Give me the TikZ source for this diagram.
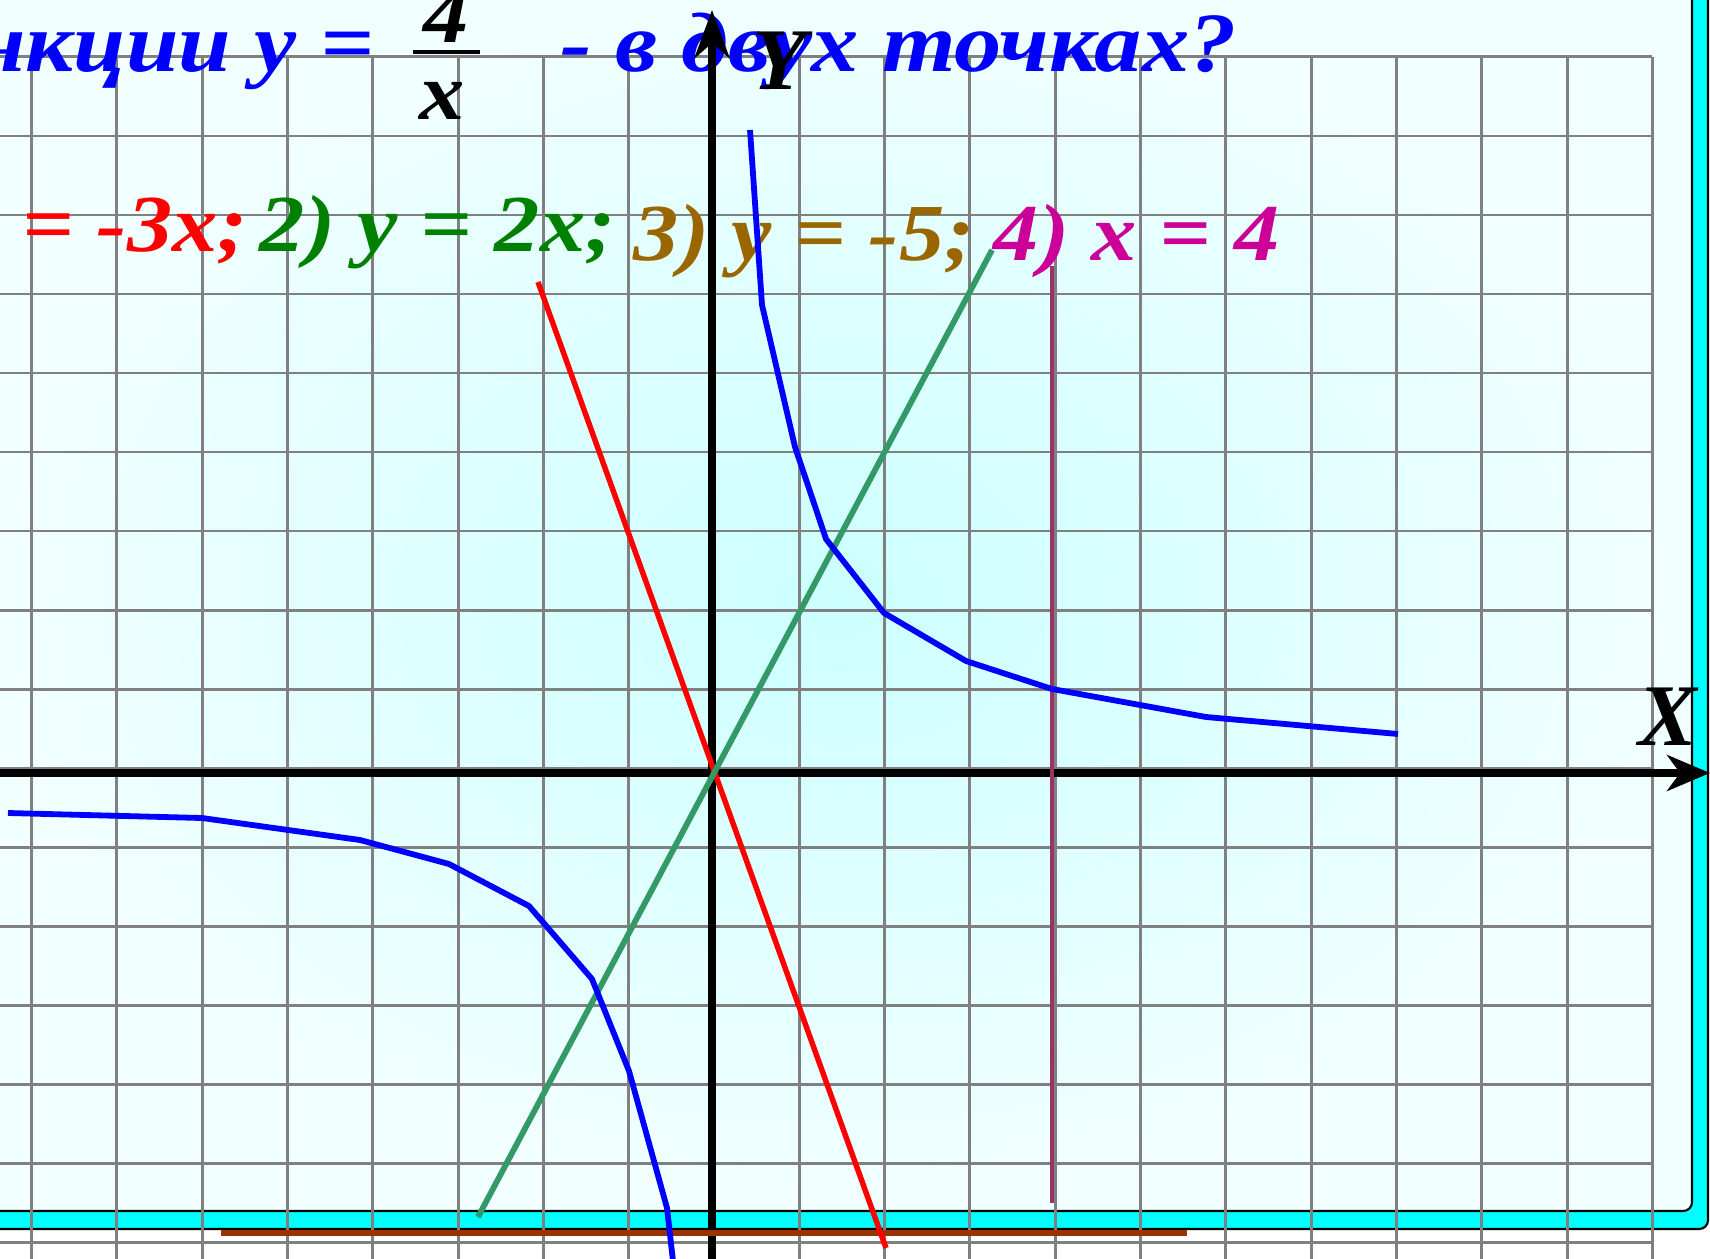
\documentclass[tikz,border=0pt]{standalone}
\usepackage{fontspec}
\setmainfont{Liberation Serif}
\newfontfamily\slidefont{Liberation Serif}[FakeStretch=1.12]
\usetikzlibrary{arrows.meta}
\definecolor{GridGray}{HTML}{808080}
\definecolor{FrameCyan}{HTML}{00FFFF}
\definecolor{PaleCyan}{HTML}{F2FFFF}
\definecolor{MidCyan}{HTML}{CCFFFF}
\definecolor{HypBlue}{HTML}{0000FF}
\definecolor{LineRed}{HTML}{FF0000}
\definecolor{LineGreen}{HTML}{339966}
\definecolor{TextGreen}{HTML}{008000}
\definecolor{LineBrown}{HTML}{993300}
\definecolor{TextBrown}{HTML}{996600}
\definecolor{LinePlum}{HTML}{993366}
\definecolor{TextMagenta}{HTML}{CC0099}
\tikzset{
  gridline/.style={draw=GridGray,line width=0.85pt},
  axisline/.style={draw=black,line width=2.2pt},
  graphline/.style={line width=1.65pt,line join=round},
  titletext/.style={inner sep=0pt,font=\fontsize{24}{28}\selectfont\slidefont\bfseries\itshape,text=HypBlue},
  fractext/.style={inner sep=0pt,anchor=base,font=\fontsize{23}{26}\selectfont\slidefont\bfseries\itshape},
  eqtext/.style={inner sep=0pt,anchor=base west,font=\fontsize{23}{26}\selectfont\slidefont\bfseries\itshape},
  axislabel/.style={inner sep=0pt,anchor=base,font=\fontsize{25}{28}\selectfont\bfseries\itshape},
}

\begin{document}
\begin{tikzpicture}[x=0.01cm,y=-0.01cm]
  \useasboundingbox (0,0) rectangle (1710,1258);
  \clip (0,0) rectangle (1710,1258);
  \fill[white] (0,0) rectangle (1710,1258);
  \draw[fill=FrameCyan,line width=0.6pt,rounded corners=2.5pt] (-20,-20) rectangle (1708,1229);
  \draw[line width=0.6pt,rounded corners=2.5pt,inner color=MidCyan,outer color=PaleCyan] (-20,-20) rectangle (1692,1211);
  \foreach \k in {-8,...,11}
    \draw[gridline] ({714+85.3*\k},57) -- ({714+85.3*\k},1270);
  \foreach \k in {-9,...,6}
    \draw[gridline] (-10,{768+79*\k}) -- (1652,{768+79*\k});

  \node[titletext,anchor=base east] (titleA) at (375,72) {функции y =};
  \node[titletext,anchor=base west] (titleB) at (560,72) {- в двух точках?};
  \node[fractext] (numer) at (446,43) {4};
  \draw[line width=1.4pt] (413,52) -- (480,52);
  \node[fractext] (denom) at (442,120) {x};

  \node[eqtext,text=LineRed] (eqA) at (22,252) {= -3x;};
  \node[eqtext,text=TextGreen] (eqB) at (259,252) {2) y = 2x;};
  \node[eqtext,text=TextBrown] (eqC) at (633,261) {3) y = -5;};
  \node[eqtext,text=TextMagenta] (eqD) at (993,261) {4) x = 4};

  \draw[axisline,-{Stealth[length=13.7pt,width=10pt,inset=4.3pt]}] (712,1270) -- (712,10);
  \draw[axisline,-{Stealth[length=12.2pt,width=10.2pt,inset=3.7pt]}] (-10,773) -- (1710,773);

  \draw[graphline,draw=LineBrown] (221,1233) -- (1187,1233);
  \draw[graphline,draw=LinePlum,line width=1.4pt] (1052,266) -- (1052,1203);
  \draw[graphline,draw=LineRed,line width=1.55pt] (538,282) -- (886,1248);
  \draw[graphline,draw=LineGreen] (478,1217) -- (992,250);
  \draw[graphline,draw=HypBlue] (750,130) -- (762,305) -- (795,447) -- (826,539) -- (884,613)
    -- (966,661) -- (1052,689) -- (1206,717) -- (1398,734);
  \draw[graphline,draw=HypBlue] (8,813) -- (202,818) -- (360,840) -- (449,864) -- (529,906)
    -- (592,979) -- (629,1071) -- (667,1208) -- (674,1270);

  \node[axislabel] (ylab) at (779,90) {Y};
  \node[axislabel] (xlab) at (1668,745) {X};
\end{tikzpicture}
\end{document}
